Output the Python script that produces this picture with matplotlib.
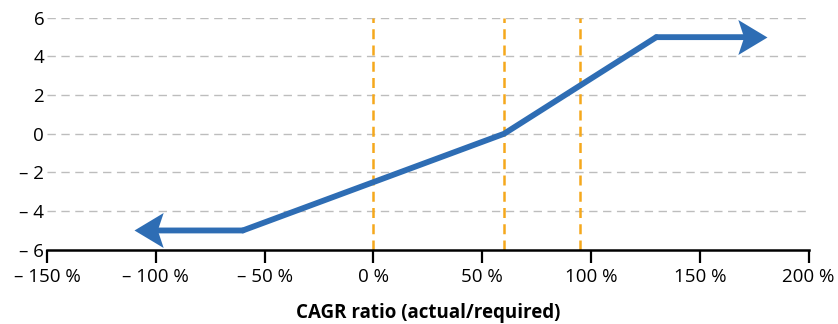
import matplotlib
matplotlib.use("Agg")
import matplotlib.pyplot as plt
from matplotlib.ticker import FuncFormatter
from matplotlib.path import Path

plt.rcParams['font.family'] = ['Open Sans', 'DejaVu Sans']

# Data
line_x = [-110, -60, 60, 130, 181]   # CAGR ratio (%)
line_y = [-5, -5, 0, 5, 5]
vlines_x = [0, 60, 95]
x_ticks = [-150, -100, -50, 0, 50, 100, 150, 200]
y_ticks = [-6, -4, -2, 0, 2, 4, 6]
x_label = "CAGR ratio (actual/required)"

BLUE = "#2E6DB4"
ORANGE = "#F5A81C"
LW = 4.2

fig = plt.figure(figsize=(8.38, 3.24), dpi=100)
ax = fig.add_axes([0.056, 0.229, 0.909, 0.716])

ax.set_xlim(-150, 200)
ax.set_ylim(-6, 6)

# grid
for y in y_ticks:
    if y == -6:
        continue
    ax.axhline(y, color="#BDBDBD", lw=1.0, dashes=(6, 4), zorder=1)

for vx in vlines_x:
    ax.axvline(vx, color=ORANGE, lw=1.8, dashes=(4, 2.5), zorder=2)

# middle segments
ax.plot(line_x[1:-1], line_y[1:-1], color=BLUE, lw=LW, solid_capstyle='round',
        solid_joinstyle='miter', zorder=3)
# end segments, shortened so arrowheads cover them
seg_kw = dict(arrowstyle='-', color=BLUE, lw=LW, shrinkA=0, shrinkB=12,
              capstyle='round')
ax.annotate('', xy=(line_x[0], line_y[0]), xytext=(line_x[1], line_y[1]),
            arrowprops=seg_kw, zorder=3)
ax.annotate('', xy=(line_x[-1], line_y[-1]), xytext=(line_x[-2], line_y[-2]),
            arrowprops=seg_kw, zorder=3)

# notched arrowheads (tip at origin)
L, H, N = 1.0, 0.6, 0.8
right_head = Path([(0, 0), (-L, H), (-N * L, 0), (-L, -H), (0, 0)],
                  [Path.MOVETO, Path.LINETO, Path.LINETO, Path.LINETO, Path.CLOSEPOLY])
left_head = Path([(0, 0), (L, H), (N * L, 0), (L, -H), (0, 0)],
                 [Path.MOVETO, Path.LINETO, Path.LINETO, Path.LINETO, Path.CLOSEPOLY])
ax.plot([line_x[-1]], [line_y[-1]], marker=right_head, markersize=42,
        color=BLUE, markeredgewidth=0, linestyle='none', zorder=4)
ax.plot([line_x[0]], [line_y[0]], marker=left_head, markersize=42,
        color=BLUE, markeredgewidth=0, linestyle='none', zorder=4)

for s in ['top', 'right', 'left']:
    ax.spines[s].set_visible(False)
ax.spines['bottom'].set_linewidth(1.8)
ax.spines['bottom'].set_color('black')

def fmt_pct(v, pos):
    v = int(round(v))
    return ("\u2013 %d %%" % abs(v)) if v < 0 else ("%d %%" % v)

def fmt_num(v, pos):
    v = int(round(v))
    return ("\u2013 %d" % abs(v)) if v < 0 else ("%d" % v)

ax.set_xticks(x_ticks)
ax.set_yticks(y_ticks)
ax.xaxis.set_major_formatter(FuncFormatter(fmt_pct))
ax.yaxis.set_major_formatter(FuncFormatter(fmt_num))
ax.tick_params(axis='x', length=9, width=1.6, color='black', labelsize=13.5, pad=4)
ax.tick_params(axis='y', length=0, labelsize=13.5, pad=2)

ax.set_xlabel(x_label, fontsize=13.5, fontweight='bold', labelpad=12)

fig.savefig("out.png", dpi=100)
